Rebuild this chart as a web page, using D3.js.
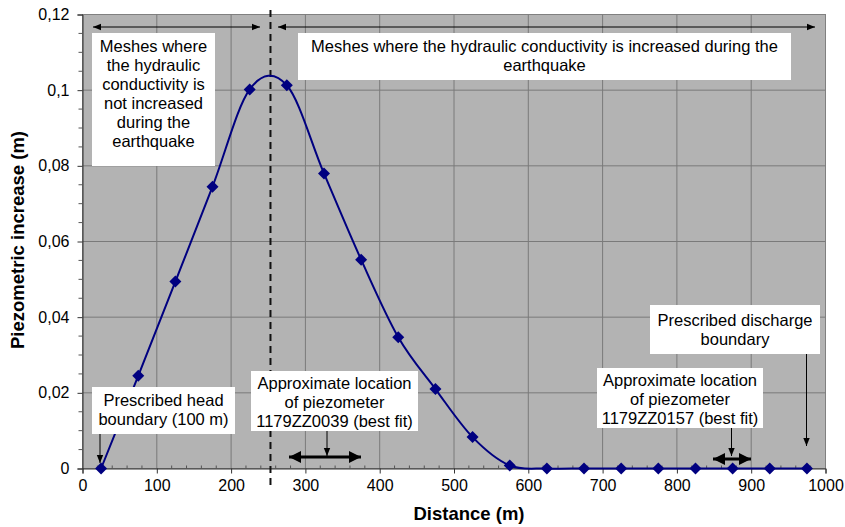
<!DOCTYPE html>
<html>
<head>
<meta charset="utf-8">
<script src="https://cdn.jsdelivr.net/npm/d3@7"></script>
<style>
  body { margin: 0; background: #fff; }
  svg text { font-family: Arial, "Liberation Sans", sans-serif; }
</style>
</head>
<body>
<div id="chart"></div>
<script>
// valeurs
var distances = [25, 75, 125, 175, 225, 275, 325, 375, 425, 475, 525, 575, 625, 675, 725, 775, 825, 875, 925, 975];
var increase = [0, 0.0245, 0.0494, 0.0745, 0.1002, 0.1013, 0.078, 0.0552, 0.0347, 0.021, 0.0083, 0.0008, 0, 0, 0, 0, 0, 0, 0, 0];
var xTicks = [0, 100, 200, 300, 400, 500, 600, 700, 800, 900, 1000];
var yTicks = [0, 0.02, 0.04, 0.06, 0.08, 0.1, 0.12];
var yTickLabels = ["0", "0,02", "0,04", "0,06", "0,08", "0,1", "0,12"];
var limitX = 253; // limite entre mailles

var width = 845, height = 527;
var margin = {left: 82.5, right: 19.5, top: 14.5, bottom: 58.5};

var svg = d3.select("#chart").append("svg")
    .attr("width", width)
    .attr("height", height);

var defs = svg.append("defs");
defs.append("marker").attr("id", "arr").attr("viewBox", "0 0 10 10")
    .attr("refX", 10).attr("refY", 5).attr("markerWidth", 8).attr("markerHeight", 8)
    .attr("markerUnits", "userSpaceOnUse").attr("orient", "auto-start-reverse")
    .append("path").attr("d", "M0,1 L10,5 L0,9 Z").attr("fill", "#000");
defs.append("marker").attr("id", "arrB").attr("viewBox", "0 0 10 10")
    .attr("refX", 10).attr("refY", 5).attr("markerWidth", 4).attr("markerHeight", 4)
    .attr("orient", "auto-start-reverse")
    .append("path").attr("d", "M0,0 L10,5 L0,10 Z").attr("fill", "#000");

var x = d3.scaleLinear().domain([0, 1000]).range([margin.left, width - margin.right]);
var y = d3.scaleLinear().domain([0, 0.12]).range([height - margin.bottom, margin.top]);

// fond gris
svg.append("rect")
    .attr("x", x(0)).attr("y", y(0.12))
    .attr("width", x(1000) - x(0)).attr("height", y(0) - y(0.12))
    .attr("fill", "#b3b3b3")
    .attr("stroke", "#808080");

// grille
svg.append("g").selectAll("line").data(xTicks.slice(1, -1)).enter().append("line")
    .attr("x1", function(d) { return x(d); }).attr("x2", function(d) { return x(d); })
    .attr("y1", y(0)).attr("y2", y(0.12))
    .attr("stroke", "#7a7a7a").attr("stroke-width", 1);
svg.append("g").selectAll("line").data(yTicks.slice(1, -1)).enter().append("line")
    .attr("x1", x(0)).attr("x2", x(1000))
    .attr("y1", function(d) { return y(d); }).attr("y2", function(d) { return y(d); })
    .attr("stroke", "#7a7a7a").attr("stroke-width", 1);

// axe x
var xAxis = svg.append("g").attr("transform", "translate(0," + y(0) + ")")
    .call(d3.axisBottom(x).tickValues(xTicks).tickSize(5).tickPadding(6).tickFormat(d3.format("d")));
xAxis.select(".domain").attr("stroke", "#333");
xAxis.selectAll(".tick line").attr("stroke", "#333");
xAxis.selectAll("text").attr("font-size", 16).attr("fill", "#000");
svg.append("g").selectAll("line").data(d3.range(20, 1000, 20).filter(function(d) { return d % 100 != 0; }))
    .enter().append("line")
    .attr("x1", function(d) { return x(d); }).attr("x2", function(d) { return x(d); })
    .attr("y1", y(0)).attr("y2", y(0) - 3)
    .attr("stroke", "#555");

// axe y
var yAxis = svg.append("g").attr("transform", "translate(" + x(0) + ",0)")
    .call(d3.axisLeft(y).tickValues(yTicks).tickSize(5).tickPadding(8)
        .tickFormat(function(d, i) { return yTickLabels[i]; }));
yAxis.select(".domain").attr("stroke", "#333");
yAxis.selectAll(".tick line").attr("stroke", "#333");
yAxis.selectAll("text").attr("font-size", 16).attr("fill", "#000");
svg.append("g").selectAll("line").data(d3.range(0.005, 0.12, 0.005).filter(function(d) { return Math.round(d * 1000) % 20 != 0; }))
    .enter().append("line")
    .attr("x1", x(0) - 4).attr("x2", x(0))
    .attr("y1", function(d) { return y(d); }).attr("y2", function(d) { return y(d); })
    .attr("stroke", "#555");

// titres des axes
svg.append("text")
    .attr("x", 469).attr("y", 520)
    .attr("text-anchor", "middle").attr("font-size", 18.5).attr("font-weight", "bold")
    .text("Distance (m)");
svg.append("text")
    .attr("transform", "translate(24,240) rotate(-90)")
    .attr("text-anchor", "middle").attr("font-size", 18.5).attr("font-weight", "bold")
    .text("Piezometric increase (m)");

// ligne pointillée verticale
svg.append("line")
    .attr("x1", x(limitX)).attr("x2", x(limitX))
    .attr("y1", 10).attr("y2", 487)
    .attr("stroke", "#111").attr("stroke-width", 2).attr("stroke-dasharray", "7,5");

// flèches du haut
svg.append("line").attr("x1", 93).attr("x2", 260).attr("y1", 27).attr("y2", 27)
    .attr("stroke", "#000").attr("stroke-width", 1)
    .attr("marker-start", "url(#arr)").attr("marker-end", "url(#arr)");
svg.append("line").attr("x1", 278).attr("x2", 815).attr("y1", 27).attr("y2", 27)
    .attr("stroke", "#000").attr("stroke-width", 1)
    .attr("marker-start", "url(#arr)").attr("marker-end", "url(#arr)");

// boîtes de texte
function textBox(bx, by, bw, bh, lines, firstY) {
    svg.append("rect").attr("x", bx).attr("y", by).attr("width", bw).attr("height", bh).attr("fill", "#fff");
    var t = svg.append("text").attr("text-anchor", "middle").attr("font-size", 16.5).attr("fill", "#000");
    lines.forEach(function(l, i) {
        t.append("tspan").attr("x", bx + bw / 2).attr("y", firstY + i * 19).text(l);
    });
}

// courbe
var line = d3.line()
    .x(function(d, i) { return x(distances[i]); })
    .y(function(d) { return y(d); })
    .curve(d3.curveCardinal.tension(0));
svg.append("path").datum(increase)
    .attr("d", line)
    .attr("fill", "none").attr("stroke", "#000080").attr("stroke-width", 2);

textBox(92, 33, 123, 133, ["Meshes where", "the hydraulic", "conductivity is", "not increased", "during the", "earthquake"], 52);
textBox(298, 33, 493, 47, ["Meshes where the hydraulic conductivity is increased during the", "earthquake"], 52);

textBox(92, 387, 143, 47, ["Prescribed head", "boundary (100 m)"], 406);
textBox(251, 371, 167, 60, ["Approximate location", "of piezometer", "1179ZZ0039 (best fit)"], 389);
textBox(597, 368, 166, 60, ["Approximate location", "of piezometer", "1179ZZ0157 (best fit)"], 386);
textBox(650, 305, 170, 49, ["Prescribed discharge", "boundary"], 326);

// marqueurs
svg.append("g").selectAll("path").data(increase).enter().append("path")
    .attr("transform", function(d, i) { return "translate(" + x(distances[i]) + "," + y(d) + ")"; })
    .attr("d", "M0,-6 L6,0 L0,6 L-6,0 Z")
    .attr("fill", "#000080");

// flèches d'annotation
function arrow(x1, y1, x2, y2) {
    svg.append("line").attr("x1", x1).attr("y1", y1).attr("x2", x2).attr("y2", y2)
        .attr("stroke", "#000").attr("stroke-width", 1).attr("marker-end", "url(#arr)");
}
arrow(100, 434, 100, 463);
arrow(327, 431, 327, 456);
arrow(731.5, 428, 731.5, 456);
arrow(806.5, 354, 806.5, 446);

svg.append("line").attr("x1", 289).attr("x2", 361).attr("y1", 457).attr("y2", 457)
    .attr("stroke", "#000").attr("stroke-width", 3)
    .attr("marker-start", "url(#arrB)").attr("marker-end", "url(#arrB)");
svg.append("line").attr("x1", 713).attr("x2", 751).attr("y1", 459).attr("y2", 459)
    .attr("stroke", "#000").attr("stroke-width", 3)
    .attr("marker-start", "url(#arrB)").attr("marker-end", "url(#arrB)");
</script>
</body>
</html>
